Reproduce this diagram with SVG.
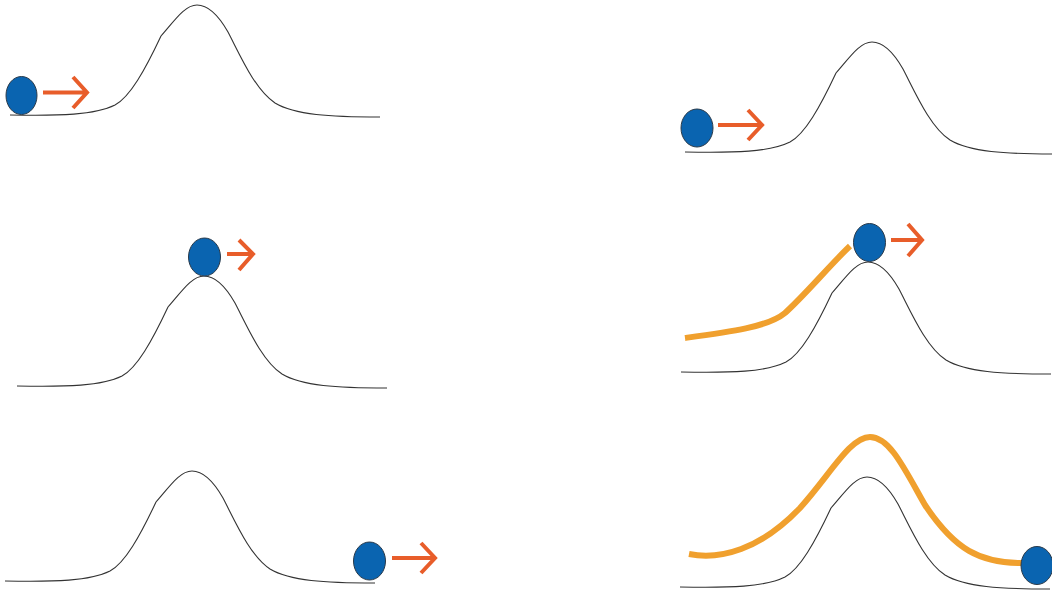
<svg xmlns="http://www.w3.org/2000/svg" width="1052" height="590" viewBox="0 0 1052 590">
<defs>
<style>
.hill{fill:none;stroke:#333;stroke-width:1.1}
.ball{fill:#0a64b0;stroke:#2a3a4a;stroke-width:1}
.arrow{fill:none;stroke:#e85d2a;stroke-width:4}
.track{fill:none;stroke:#f0a02e;stroke-width:6}
</style>
<path id="hillShape" d="M10,115 C60,116 95,115 115,105 C130,97 145,70 161,36 C175,20 185,5 197,5 C210,5 220,18 228,32 C240,55 255,90 275,103 C295,115 330,117 380,117"/>
</defs>
<rect width="1052" height="590" fill="#fff"/>
<g id="panel1">
<use href="#hillShape" class="hill"/>
<ellipse class="ball" cx="21.5" cy="95.5" rx="15.5" ry="19"/>
<path class="arrow" d="M43,92.5 H86 M73,77 L87,92.5 L73,108"/>
</g>
<g id="panel2">
<use href="#hillShape" class="hill" transform="translate(675,37)"/>
<ellipse class="ball" cx="697" cy="128" rx="16" ry="19"/>
<path class="arrow" d="M718,125 H761 M748,110 L762,125 L748,140"/>
</g>
<g id="panel3">
<use href="#hillShape" class="hill" transform="translate(7,271)"/>
<ellipse class="ball" cx="204.5" cy="257" rx="16" ry="19"/>
<path class="arrow" d="M227,254 H252 M239,240 L253,254 L239,270"/>
</g>
<g id="panel4">
<use href="#hillShape" class="hill" transform="translate(671,257)"/>
<path class="track" d="M685,338 C730,332 768,327 785,313 C805,295 830,265 850,246"/>
<ellipse class="ball" cx="869.5" cy="242.5" rx="16" ry="19"/>
<path class="arrow" d="M891,240 H921 M908,224 L922,240 L908,256"/>
</g>
<g id="panel5">
<use href="#hillShape" class="hill" transform="translate(-5,466)"/>
<ellipse class="ball" cx="369.5" cy="561" rx="16" ry="19"/>
<path class="arrow" d="M392,558 H434 M421,543 L435,558 L421,573"/>
</g>
<g id="panel6">
<use href="#hillShape" class="hill" transform="translate(670,472)"/>
<path class="track" d="M689,554 C720,560 760,550 800,508 C830,475 850,437 870,437 C890,437 905,470 925,505 C955,550 980,563 1022,563"/>
<ellipse class="ball" cx="1037" cy="565.5" rx="16" ry="19"/>
</g>
</svg>
